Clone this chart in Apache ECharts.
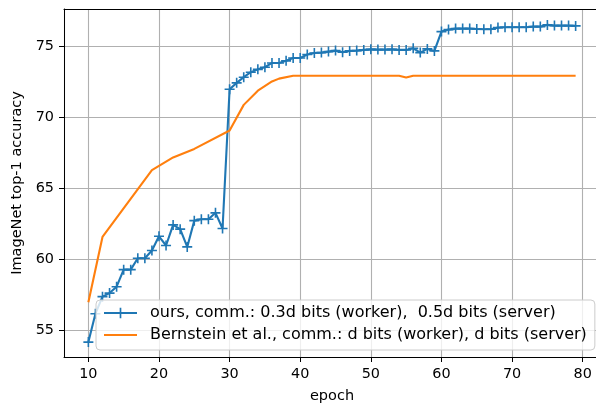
<!DOCTYPE html>
<html>
<head>
<meta charset="utf-8">
<script src="https://cdn.jsdelivr.net/npm/echarts@6/dist/echarts.min.js"></script>
<style>
html,body{margin:0;padding:0;background:#fff;overflow:hidden;width:596px;height:405px;}
#wrap{width:596px;height:405px;overflow:hidden;position:relative;}
#chart{width:640px;height:405px;position:absolute;left:0;top:0;}
</style>
</head>
<body>
<div id="wrap"><div id="chart"></div></div>
<script>
// ---- data ----
const oursEpochs = [10,11,12,13,14,15,16,17,18,19,20,21,22,23,24,25,26,27,28,29,30,31,32,33,34,35,36,37,38,39,40,41,42,43,44,45,46,47,48,49,50,51,52,53,54,55,56,57,58,59,60,61,62,63,64,65,66,67,68,69,70,71,72,73,74,75,76,77,78,79];
const oursAcc = [54.2,56.2,57.4,57.65,58.1,59.3,59.3,60.1,60.1,60.65,61.65,61.0,62.45,62.15,60.9,62.75,62.85,62.85,63.3,62.2,72.0,72.45,72.85,73.2,73.4,73.55,73.85,73.85,74.0,74.2,74.2,74.45,74.55,74.58,74.65,74.72,74.6,74.7,74.72,74.77,74.81,74.79,74.79,74.81,74.77,74.77,74.88,74.58,74.84,74.7,76.06,76.2,76.27,76.27,76.27,76.24,76.22,76.22,76.34,76.36,76.36,76.36,76.36,76.41,76.41,76.53,76.48,76.48,76.48,76.46];
const bernEpochs = [10,12,19,22,25,30,32,34,36,37,39,54,55,56,79];
const bernAcc = [57.0,61.6,66.3,67.2,67.8,69.1,70.9,71.9,72.55,72.75,72.95,72.95,72.83,72.95,72.95];
const seriesNames = ['ours, comm.: 0.3d bits (worker),  0.5d bits (server)','Bernstein et al., comm.: d bits (worker), d bits (server)'];
const xTitle = 'epoch';
const yTitle = 'ImageNet top-1 accuracy';

const FONT = 'DejaVu Sans';
const plusPath = 'path://M-0.8,-5 L0.8,-5 L0.8,-0.8 L5,-0.8 L5,0.8 L0.8,0.8 L0.8,5 L-0.8,5 L-0.8,0.8 L-5,0.8 L-5,-0.8 L-0.8,-0.8 Z';

const chart = echarts.init(document.getElementById('chart'), null, {renderer:'canvas'});
const isTick = (v, step) => Math.abs(v/step - Math.round(v/step)) < 1e-6;
const XMIN = 6.55, XMAX = 82.45;

chart.setOption({
  animation:false,
  backgroundColor:'#fff',
  grid:{left:64, top:9, width:536, height:348, show:false, containLabel:false, outerBoundsMode:'none'},
  legend:{
    orient:'vertical', left:96, top:300,
    backgroundColor:'rgba(255,255,255,0.8)', borderColor:'#cccccc', borderWidth:1, borderRadius:4,
    padding:[5,8,7,7], itemGap:6, itemWidth:33, itemHeight:13,
    textStyle:{fontFamily:FONT, fontSize:16, color:'#000', padding:[0,0,0,8]},
    data:[{name:seriesNames[0]}, {name:seriesNames[1], itemStyle:{opacity:0}}]
  },
  xAxis:[{
    type:'value', min:XMIN, max:XMAX, splitNumber:8,
    name:xTitle, nameLocation:'middle', nameGap:32,
    nameTextStyle:{fontFamily:FONT, fontSize:14.5, color:'#000'},
    axisLine:{show:true, lineStyle:{color:'#000', width:1}},
    axisTick:{show:true, inside:false, length:5, lineStyle:{color:'#000', width:1}},
    axisLabel:{margin:10, fontFamily:FONT, fontSize:14.4, color:'#000', showMinLabel:false, showMaxLabel:false,
      formatter:v => isTick(v,10) ? String(Math.round(v)) : ''},
    splitLine:{show:true, lineStyle:{color:'#b0b0b0', width:1.1}}
  },{
    type:'value', position:'top', min:XMIN, max:XMAX,
    axisLine:{show:true, onZero:false, lineStyle:{color:'#000', width:1}},
    axisTick:{show:false}, axisLabel:{show:false}, splitLine:{show:false}
  }],
  yAxis:{
    type:'value', min:53.15, max:77.65, splitNumber:5,
    name:yTitle, nameLocation:'middle', nameGap:39,
    nameTextStyle:{fontFamily:FONT, fontSize:14.5, color:'#000'},
    axisLine:{show:true, lineStyle:{color:'#000', width:1}},
    axisTick:{show:true, inside:false, length:5, lineStyle:{color:'#000', width:1}},
    axisLabel:{margin:10, fontFamily:FONT, fontSize:14.4, color:'#000', showMinLabel:false, showMaxLabel:false,
      formatter:v => isTick(v,5) ? String(Math.round(v)) : ''},
    splitLine:{show:true, lineStyle:{color:'#b0b0b0', width:1.1}}
  },
  series:[
    {
      name:seriesNames[0], type:'line', xAxisIndex:0,
      data:oursEpochs.map((e,i)=>[e, oursAcc[i]]),
      symbol:plusPath, symbolSize:10, showAllSymbol:true,
      lineStyle:{color:'#1f77b4', width:2.1},
      itemStyle:{color:'#1f77b4', borderWidth:0},
      emphasis:{disabled:true}
    },
    {
      name:seriesNames[1], type:'line', xAxisIndex:0,
      data:bernEpochs.map((e,i)=>[e, bernAcc[i]]),
      symbol:'none',
      lineStyle:{color:'#ff7f0e', width:2.1},
      itemStyle:{color:'#ff7f0e'},
      emphasis:{disabled:true}
    }
  ]
});
</script>
</body>
</html>
